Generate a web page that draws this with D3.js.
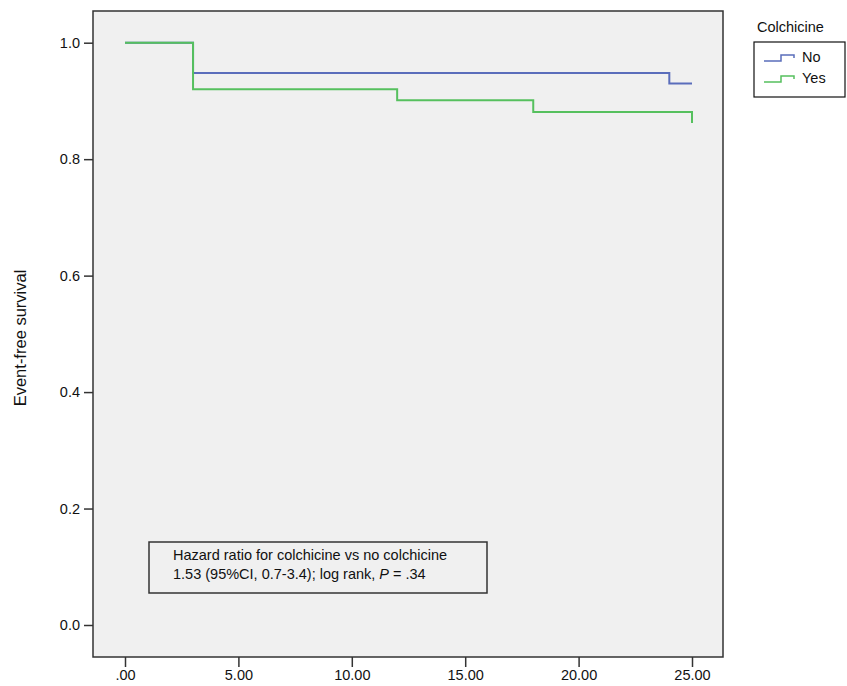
<!DOCTYPE html>
<html>
<head>
<meta charset="utf-8">
<script src="https://cdn.jsdelivr.net/npm/d3@7"></script>
<style>
html, body { margin: 0; padding: 0; background: #fff; overflow: hidden; }
svg { display: block; }
text { font-family: "Liberation Sans", Arial, sans-serif; fill: #111; }
</style>
</head>
<body>
<svg id="chart" width="847" height="686"></svg>
<script>
// step curves: [time, survival]
const noSteps = [[0, 1.0], [3, 0.948], [24, 0.930], [25, 0.930]]
const yesSteps = [[0, 1.0], [3, 0.920], [12, 0.901], [18, 0.881], [25, 0.881], [25, 0.862]]
const xTicks = [0, 5, 10, 15, 20, 25]
const xTickLabels = ['.00', '5.00', '10.00', '15.00', '20.00', '25.00']
const yTicks = [0, 0.2, 0.4, 0.6, 0.8, 1.0]
const groups = ['No', 'Yes']
const colors = ['#5a6dbb', '#56c05e']

const svg = d3.select('#chart')
const margin = { top: 11, left: 93, right: 124, bottom: 29 }
const width = +svg.attr('width')
const height = +svg.attr('height')
const innerWidth = width - margin.left - margin.right
const innerHeight = height - margin.top - margin.bottom

const xScale = d3.scaleLinear().domain([0, 25]).range([125 - margin.left, 692 - margin.left])
const yScale = d3.scaleLinear().domain([0, 1]).range([625 - margin.top, 42.7 - margin.top])

const g = svg.append('g')
    .attr('transform', `translate(${margin.left},${margin.top})`)

g.append('rect')
    .attr('width', innerWidth)
    .attr('height', innerHeight)
    .attr('fill', '#f0f0f0')

const xAxisG = g.append('g')
    .attr('transform', `translate(0,${innerHeight})`)
    .call(d3.axisBottom(xScale).tickValues(xTicks).tickFormat((d, i) => xTickLabels[i]).tickSize(10).tickPadding(3))
xAxisG.select('.domain').remove()
xAxisG.selectAll('text').attr('font-size', 14.5)
xAxisG.selectAll('line').attr('stroke', '#333').attr('stroke-width', 1.5)

const yAxisG = g.append('g')
    .call(d3.axisLeft(yScale).tickValues(yTicks).tickFormat(d3.format('.1f')).tickSize(9).tickPadding(4))
yAxisG.select('.domain').remove()
yAxisG.selectAll('text').attr('font-size', 14.5)
yAxisG.selectAll('line').attr('stroke', '#333').attr('stroke-width', 1.5)

g.append('rect')
    .attr('width', innerWidth)
    .attr('height', innerHeight)
    .attr('fill', 'none')
    .attr('stroke', '#333')
    .attr('stroke-width', 1.5)

svg.append('text')
    .attr('transform', `translate(26,${338}) rotate(-90)`)
    .attr('text-anchor', 'middle')
    .attr('font-size', 16.5)
    .text('Event-free survival')

const line = d3.line()
    .x(d => xScale(d[0]))
    .y(d => yScale(d[1]))
    .curve(d3.curveStepAfter)

g.append('path')
    .attr('d', line(noSteps))
    .attr('fill', 'none')
    .attr('stroke', colors[0])
    .attr('stroke-width', 2)

g.append('path')
    .attr('d', line(yesSteps))
    .attr('fill', 'none')
    .attr('stroke', colors[1])
    .attr('stroke-width', 2)

// annotation box
const note = g.append('g').attr('transform', `translate(${149 - margin.left},${542 - margin.top})`)
note.append('rect')
    .attr('width', 338)
    .attr('height', 51)
    .attr('fill', 'none')
    .attr('stroke', '#333')
    .attr('stroke-width', 1.5)
note.append('text')
    .attr('x', 24).attr('y', 18)
    .attr('font-size', 14.5)
    .text('Hazard ratio for colchicine vs no colchicine')
const t2 = note.append('text')
    .attr('x', 24).attr('y', 37)
    .attr('font-size', 14.5)
t2.append('tspan').text('1.53 (95%CI, 0.7-3.4); log rank, ')
t2.append('tspan').attr('font-style', 'italic').text('P')
t2.append('tspan').text(' = .34')

// legend
const legend = svg.append('g').attr('transform', 'translate(754,0)')
legend.append('text')
    .attr('x', 3).attr('y', 32)
    .attr('font-size', 14.5)
    .text('Colchicine')
legend.append('rect')
    .attr('x', 0).attr('y', 42)
    .attr('width', 91).attr('height', 55)
    .attr('fill', 'none')
    .attr('stroke', '#111')
    .attr('stroke-width', 1.2)
groups.forEach((name, i) => {
    const y = 61 + i * 21
    legend.append('path')
        .attr('d', `M10,${y} H27 V${y - 6} H40 V${y - 3}`)
        .attr('fill', 'none')
        .attr('stroke', colors[i])
        .attr('stroke-width', 1.5)
    legend.append('text')
        .attr('x', 48).attr('y', y + 1)
        .attr('font-size', 14.5)
        .text(name)
})
</script>
</body>
</html>
